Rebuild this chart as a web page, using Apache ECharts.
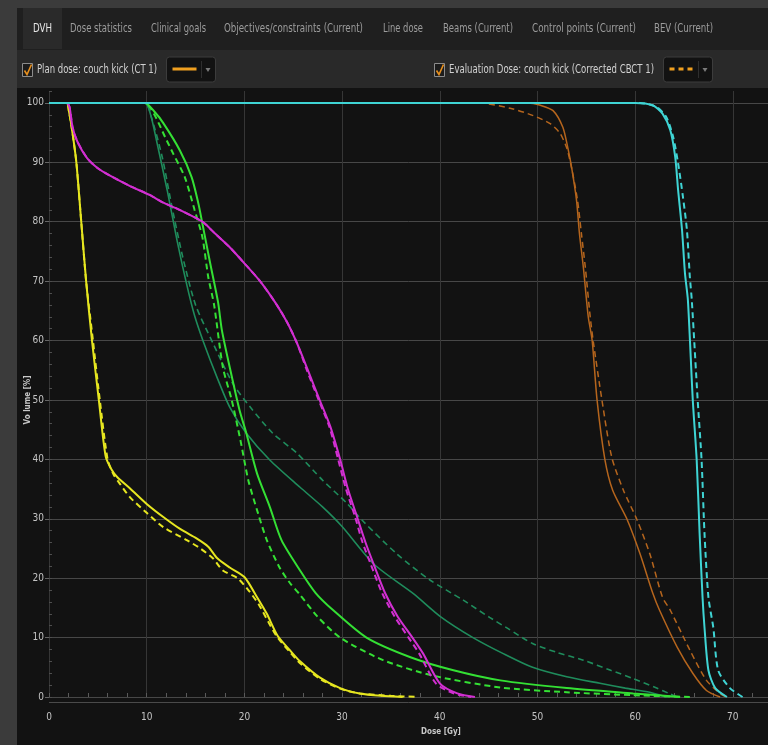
<!DOCTYPE html>
<html>
<head>
<meta charset="utf-8">
<script src="https://cdn.jsdelivr.net/npm/echarts@6/dist/echarts.min.js"></script>
<style>
  html, body { margin: 0; padding: 0; background: #3b3b3b; }
  #chart { width: 768px; height: 745px; }
</style>
</head>
<body>
<div id="chart"></div>
<script>
// ---- data: [dose Gy, volume %] ----
const cyanPlan = [[0,100],[60,100],[61.8,99.6],[62.8,98.2],[63.6,95.4],[64.1,90.9],[64.4,85.3],[64.8,78.6],[65.1,71.3],[65.4,66.8],[65.9,50],[66.3,39.9],[66.6,27.5],[66.9,16.8],[67.1,11.7],[67.5,4.5],[68.2,1.5],[69.4,0]];
const cyanEval = [[0,100],[60.5,100],[62.2,99.3],[63.2,97.6],[63.9,94.2],[64.4,89.8],[64.9,84.1],[65.3,78.6],[65.6,70.7],[65.8,66.8],[66.4,50],[66.8,39.9],[67.1,27.5],[67.5,16.8],[68,11.7],[68.5,4.5],[69.7,1.5],[71,0]];

const orangePlan = [[0,100],[49,100],[50.3,99.6],[51.6,98.7],[52.6,95.9],[53.1,92.5],[53.5,89.1],[54,83.6],[54.3,78],[54.7,72.3],[55.2,64],[55.6,60],[56.1,50],[56.9,40],[57.7,34.8],[59.2,29.8],[60.5,24.1],[61.8,17.5],[62.5,14.6],[64.3,8.4],[65.9,4],[67.3,1.1],[68.7,0]];
const orangeEval = [[0,100],[44,100],[47.2,99.1],[49.5,97.9],[51.3,96.5],[52.3,94.9],[53,92.4],[53.5,89],[54.1,83.6],[54.5,78],[54.9,72.3],[55.4,64],[55.7,60],[56.6,50],[57.6,40.4],[58.8,34.8],[60.2,29.8],[61.5,24.1],[62.8,16.8],[63.6,14.6],[65.6,7.9],[67.3,2.8],[68.7,0.6],[69.3,0]];

const darkGreenPlan = [[0,100],[9.8,100],[10.4,98],[11,93.7],[12.1,85.3],[13.1,76.9],[14.1,69.4],[14.9,64.2],[15.8,59.8],[17.2,53.8],[18.5,48.8],[20.2,44.4],[22.6,39.9],[25.7,35.3],[28,32],[30,28.7],[33.3,22.3],[37.3,17.4],[40.1,13.5],[43.4,10],[46.5,7.3],[49.5,5],[53,3.4],[56.4,2.3],[59,1.5],[61.5,0.8],[63.2,0]];
const darkGreenEval = [[0,100],[9.8,100],[10.5,97.5],[11.6,90.8],[12.6,82.4],[13.7,74],[15,66],[16.8,59.5],[18.8,52.8],[20.6,48.8],[22.9,44.4],[25.4,41],[28,36.5],[30.5,32.6],[32.2,29.5],[35.6,24.1],[38.9,19.8],[42.4,16.3],[45.1,13.4],[47,11.5],[49.5,9],[52,7.5],[54.7,6.2],[57.5,4.5],[59.8,3.1],[62.2,1.5],[63.6,0.5],[64.3,0]];

const greenPlan = [[0,100],[9.8,100],[10.8,98.5],[11.7,96.6],[13.4,92],[14.6,87.5],[15.3,83],[15.7,79.7],[16.5,73],[17.3,66.5],[17.7,61.7],[18.5,55.5],[19.5,48.3],[20.2,44.4],[21.3,37.6],[22.6,32],[23.8,26.4],[25.7,21.3],[27.3,17.5],[29.1,14.6],[32.5,10],[37,6.7],[41.4,4.5],[46.2,2.8],[53,1.5],[59.8,0.6],[64.6,0]];
const greenEval = [[0,100],[9.8,100],[10.7,98.3],[11.9,94.2],[12.7,91.5],[13.9,87.5],[14.9,82],[15.7,77.4],[16.3,70.7],[16.9,66],[17.8,55.5],[18.7,50],[19.6,43.2],[20.4,36.5],[21.4,30.9],[22.3,26.4],[23.6,21.8],[24.7,19.1],[25.6,17.4],[27.5,13.5],[29.8,10],[34.2,6.2],[39.3,3.6],[46.2,1.6],[53,0.8],[59.8,0.3],[65.6,0]];

const yellowPlan = [[0,100],[1.8,100],[2.05,98.5],[2.4,95],[2.8,90],[3.3,80],[3.8,70],[4.4,60],[5.1,50],[5.8,40.5],[6.4,38.3],[7,37],[8.3,35.1],[10,32.5],[11.7,30.3],[13.5,28.2],[15.1,26.7],[16.3,25.3],[17.2,23.4],[18.5,21.8],[20,20.2],[21.3,16.8],[22.3,14],[23.4,10.3],[24.7,7.8],[25.7,6],[27.7,3.3],[29.8,1.5],[31.8,0.6],[34,0.2],[36.2,0]];
const yellowEval = [[0,100],[1.8,100],[2.05,98.5],[2.4,95],[2.8,90],[3.3,80],[3.8,70],[4.5,60],[5.2,50],[6,40],[6.6,37.5],[7.3,35.8],[8.3,33.6],[10,31],[11.7,28.6],[14.1,26.4],[15.5,25],[16.8,23.3],[17.8,21.3],[19.3,20],[20.5,17.8],[21.5,15.5],[22.5,12.5],[23.4,10],[24.7,7.5],[25.7,5.7],[27.7,3.1],[29.8,1.4],[31.8,0.6],[35,0.2],[37.8,0]];

const magentaPlan = [[0,100],[1.8,100],[2.1,99.3],[2.4,96],[2.9,93.5],[3.9,90.7],[5,89],[6.2,87.8],[8.3,86],[10.3,84.5],[11.7,83.2],[13.1,82.2],[15.7,80],[17,78],[18.5,75.7],[20,73],[21.6,70],[23.2,66.3],[24.4,63],[25.4,59.5],[26.5,55],[27.7,50],[28.8,45.5],[29.8,40],[30.6,35],[31.5,30.5],[32.4,26],[33.2,22.5],[34.4,17.5],[35.7,13.5],[37.2,10],[38.3,7.3],[40,2.3],[41.8,0.6],[43.6,0]];
const magentaEval = [[0,100],[1.8,100],[2.1,99.3],[2.4,96],[2.9,93.5],[3.9,90.7],[5,89],[6.2,87.8],[8.3,86],[10.3,84.5],[11.7,83.2],[13.1,82.2],[15.7,80],[17,78],[18.5,75.7],[20,73],[21.6,70],[23.2,66.3],[24.4,63],[25.4,59.5],[26.4,55],[27.6,50],[28.7,45.5],[29.6,40],[30.4,35],[31.3,30.5],[32.1,26],[32.9,22.5],[34.1,17.5],[35.4,13.5],[36.8,10],[37.9,7.3],[39.6,2.3],[41.4,0.6],[43.2,0]];

const tabLabels = ['DVH', 'Dose statistics', 'Clinical goals', 'Objectives/constraints (Current)', 'Line dose', 'Beams (Current)', 'Control points (Current)', 'BEV (Current)'];
const planLabel = 'Plan dose: couch kick (CT 1)';
const evalLabel = 'Evaluation Dose: couch kick (Corrected CBCT 1)';
const xName = 'Dose [Gy]';
const yName = 'Vo lume [%]';

// ---- layout ----
const FONT = '"Liberation Sans Narrow", "DejaVu Sans Condensed", "Open Sans", sans-serif';
const tabSpans = [[33, 52], [70, 132], [151, 206], [224, 363], [383, 423], [443, 513], [532, 636], [654, 713]];

const measure = document.createElement('canvas').getContext('2d');
function fitText(str, x0, x1, cy, size, color) {
  measure.font = size + 'px ' + FONT;
  const w = measure.measureText(str).width;
  return {
    type: 'text', x: x0, y: cy, scaleX: (x1 - x0) / w, silent: true,
    style: { text: str, fill: color, fontSize: size, fontFamily: FONT, align: 'left', verticalAlign: 'middle' }
  };
}

function checkbox(x, y) {
  return [
    { type: 'rect', shape: { x: x, y: y, width: 10, height: 13 }, style: { fill: '#1c1c1c', stroke: '#8c8c8c', lineWidth: 1 } },
    { type: 'polyline', shape: { points: [[x + 2, y + 7], [x + 4.5, y + 11], [x + 9, y + 1]] }, style: { stroke: '#e8901e', lineWidth: 1.6, fill: null } }
  ];
}

function dropdown(x, dashed) {
  return [
    { type: 'rect', shape: { x: x, y: 57, width: 49, height: 25, r: 3 }, style: { fill: '#121212', stroke: '#3c3c3c', lineWidth: 1 } },
    { type: 'line', shape: { x1: x + 6, y1: 69, x2: x + 30, y2: 69 }, style: { stroke: '#f0a020', lineWidth: 3, lineDash: dashed ? [5, 4] : null } },
    { type: 'line', shape: { x1: x + 35, y1: 61, x2: x + 35, y2: 78 }, style: { stroke: '#2e2e2e', lineWidth: 1 } },
    { type: 'polygon', shape: { points: [[x + 39, 68], [x + 44, 68], [x + 41.5, 72]] }, style: { fill: '#7a7a7a' } }
  ];
}

const graphics = [
  { type: 'rect', z: -10, shape: { x: 17, y: 8, width: 751, height: 42 }, style: { fill: '#1f1f1f' } },
  { type: 'rect', z: -10, shape: { x: 23, y: 8, width: 39, height: 41 }, style: { fill: '#2a2a2a' } },
  { type: 'rect', z: -10, shape: { x: 17, y: 50, width: 751, height: 38 }, style: { fill: '#292929' } },
  { type: 'rect', z: -10, shape: { x: 17, y: 88, width: 751, height: 657 }, style: { fill: '#121212' } },
  { type: 'line', shape: { x1: 49, y1: 702.5, x2: 768, y2: 702.5 }, style: { stroke: '#4a4a4a', lineWidth: 1 } },
  {
    type: 'text', x: 441, y: 732, silent: true,
    style: { text: xName, fill: '#c8c8c8', fontSize: 8, fontWeight: 'bold', fontFamily: FONT, align: 'center', verticalAlign: 'middle' }
  },
  {
    type: 'text', x: 28, y: 400, rotation: Math.PI / 2, silent: true,
    style: { text: yName, fill: '#c8c8c8', fontSize: 8, fontWeight: 'bold', fontFamily: FONT, align: 'center', verticalAlign: 'middle' }
  },
  fitText(planLabel, 37, 157, 70, 13, '#d2d2d2'),
  fitText(evalLabel, 449, 654, 70, 13, '#d2d2d2')
].concat(checkbox(22.5, 63.5), checkbox(434.5, 63.5), dropdown(166.5, false), dropdown(663.5, true));

tabLabels.forEach((t, i) => {
  graphics.push(fitText(t, tabSpans[i][0], tabSpans[i][1], 29, 13, i === 0 ? '#e6e6e6' : '#9c9c9c'));
});

function curve(data, color, width, dashed, z) {
  return {
    type: 'line', data: data, xAxisIndex: 0, yAxisIndex: 0,
    showSymbol: false, symbol: 'none', smooth: 0.25, clip: false, z: z,
    lineStyle: { color: color, width: width, type: dashed ? [6, 4] : 'solid' },
    emphasis: { disabled: true }
  };
}

const chart = echarts.init(document.getElementById('chart'), null, { renderer: 'canvas' });
chart.setOption({
  backgroundColor: '#3b3b3b',
  animation: false,
  grid: { left: 49, top: 91, right: 0, height: 606, containLabel: false },
  xAxis: [
    {
      type: 'value', min: 0, max: 73.6, interval: 10, position: 'bottom',
      axisLine: { show: true, onZero: false, lineStyle: { color: '#474747' } },
      axisTick: { show: false },
      axisLabel: { color: '#c4c4c4', fontSize: 10, fontFamily: FONT, margin: 15, showMaxLabel: false },
      splitLine: { show: true, showMaxLine: false, lineStyle: { color: '#363636', width: 1 } }
    },
    {
      type: 'value', min: 0, max: 73.6, interval: 2, position: 'bottom',
      axisLine: { show: false },
      axisTick: { show: true, inside: true, length: 4, lineStyle: { color: '#5a5a5a' } },
      axisLabel: { show: false },
      splitLine: { show: false }
    }
  ],
  yAxis: [
    {
      type: 'value', min: 0, max: 102, interval: 10, position: 'left',
      axisLine: { show: false },
      axisTick: { show: true, length: 4, lineStyle: { color: '#666' } },
      axisLabel: { color: '#c4c4c4', fontSize: 10, fontFamily: FONT, margin: 5, showMaxLabel: false },
      splitLine: { show: true, showMaxLine: false, lineStyle: { color: '#474747', width: 1 } }
    },
    {
      type: 'value', min: 0, max: 102, interval: 2, position: 'left',
      axisLine: { show: false },
      axisTick: { show: true, inside: true, length: 3, lineStyle: { color: '#4e4e4e' } },
      axisLabel: { show: false },
      splitLine: { show: false }
    }
  ],
  graphic: graphics,
  series: [
    curve(darkGreenPlan, '#1f8c5c', 1.6, false, 2),
    curve(darkGreenEval, '#1f8c5c', 1.6, true, 2),
    curve(orangePlan, '#b5651d', 1.5, false, 2),
    curve(orangeEval, '#b5651d', 1.5, true, 2),
    curve(greenPlan, '#34e034', 2, false, 3),
    curve(greenEval, '#34e034', 2, true, 3),
    curve(yellowPlan, '#e6e620', 2, false, 3),
    curve(yellowEval, '#e6e620', 2, true, 3),
    curve(magentaPlan, '#d22fd2', 2, false, 4),
    curve(magentaEval, '#d22fd2', 2, true, 4),
    curve(cyanPlan, '#3fd4d4', 2, false, 5),
    curve(cyanEval, '#3fd4d4', 2, true, 5)
  ]
});
</script>
</body>
</html>
